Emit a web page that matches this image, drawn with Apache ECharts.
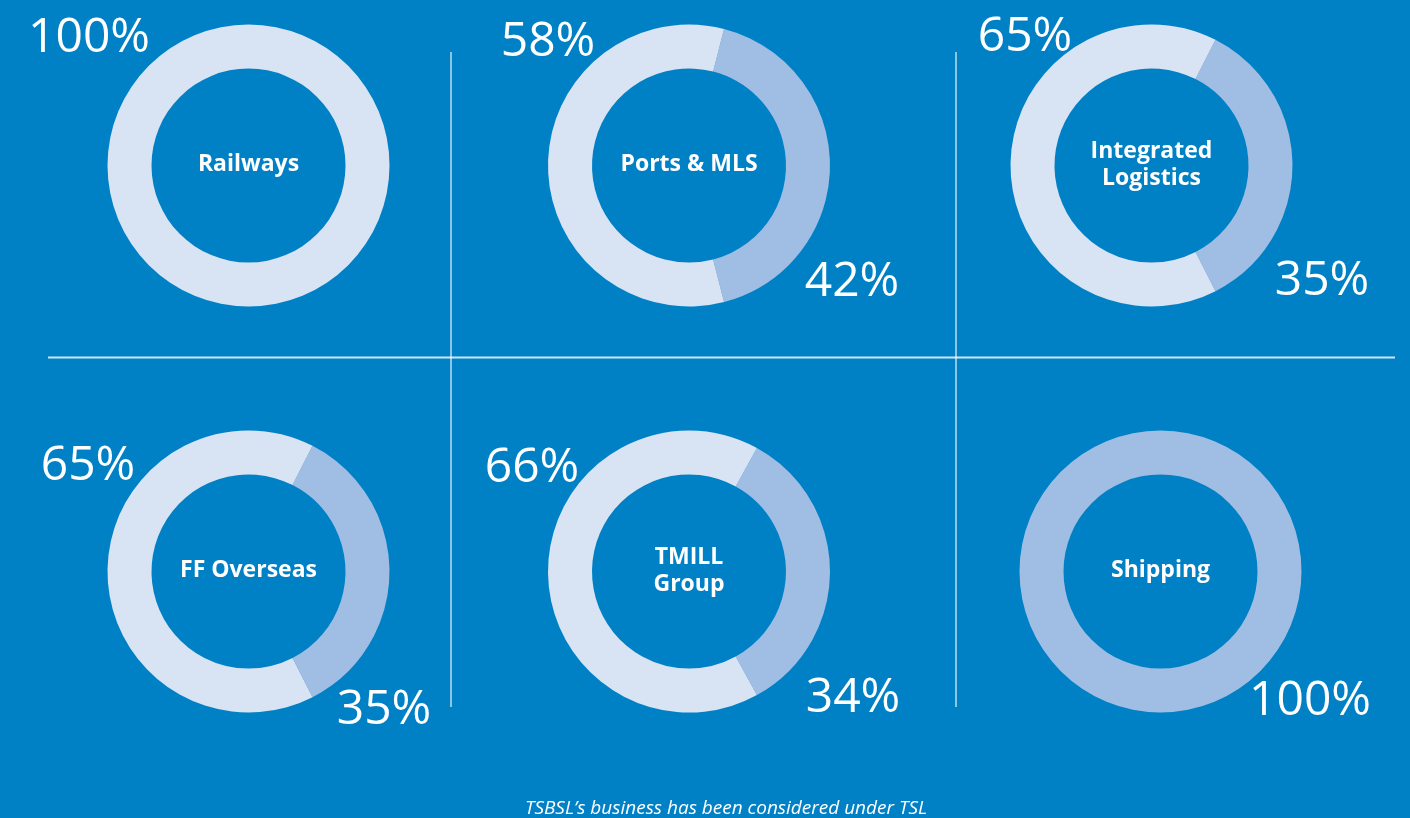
<!DOCTYPE html>
<html>
<head>
<meta charset="utf-8">
<script src="https://cdn.jsdelivr.net/npm/echarts@6/dist/echarts.min.js"></script>
<style>
html,body{margin:0;padding:0;background:#0081C6;}
#c{width:1410px;height:818px;}
</style>
</head>
<body>
<div id="c"></div>
<script>
// ---- data ----
var segments = ['Railways', 'Ports & MLS', 'Integrated\nLogistics', 'FF Overseas', 'TMILL\nGroup', 'Shipping'];
var shareA = [100, 58, 65, 65, 66, 0];   // light part
var shareB = [0, 42, 35, 35, 34, 100];   // dark part
var footnote = 'TSBSL\u2019s business has been considered under TSL';

// ---- layout (pixel positions) ----
var centers = [[248.5,165.5],[689,165.5],[1151.5,165.5],[248.5,571.5],[689,571.5],[1160.5,571.5]];
var labelAPos = [[89,38],[548,42],[1025,37],[88,466],[532,468],null];
var labelBPos = [null,[852,282],[1322,281],[384,710],[853,698],[1310,701]];

var lightColor = '#D8E3F3';
var darkColor = '#A0BEE3';

var chart = echarts.init(document.getElementById('c'), null, {renderer:'canvas'});

var series = [];
var graphics = [];
for (var i = 0; i < segments.length; i++) {
  var darkFrac = shareB[i] / (shareA[i] + shareB[i]);
  series.push({
    type: 'pie',
    silent: true,
    animation: false,
    center: centers[i],
    radius: [97, 141],
    startAngle: darkFrac * 360 / 2,
    clockwise: true,
    label: {show: false},
    labelLine: {show: false},
    itemStyle: {borderWidth: 0},
    data: [
      {name: 'B', value: shareB[i], itemStyle: {color: darkColor}},
      {name: 'A', value: shareA[i], itemStyle: {color: lightColor}}
    ]
  });
  graphics.push({
    type: 'text', x: centers[i][0], y: centers[i][1] - 1, silent: true,
    style: {text: segments[i], fill: '#fff', font: 'bold 23px "Open Sans", sans-serif',
            align: 'center', verticalAlign: 'middle', lineHeight: 27}
  });
  if (labelAPos[i]) {
    graphics.push({
      type: 'text', x: labelAPos[i][0], y: labelAPos[i][1], silent: true,
      style: {text: shareA[i] + '%', fill: '#fff', font: '48px "Open Sans", sans-serif',
              align: 'center', verticalAlign: 'middle'}
    });
  }
  if (labelBPos[i]) {
    graphics.push({
      type: 'text', x: labelBPos[i][0], y: labelBPos[i][1], silent: true,
      style: {text: shareB[i] + '%', fill: '#fff', font: '48px "Open Sans", sans-serif',
              align: 'center', verticalAlign: 'middle'}
    });
  }
}

// divider lines
var vLine = 'rgba(255,255,255,0.55)';
var hLine = 'rgba(255,255,255,0.8)';
graphics.push({type:'line', silent:true, shape:{x1:48,y1:357.5,x2:1395,y2:357.5}, style:{stroke:hLine,lineWidth:2}});
graphics.push({type:'line', silent:true, shape:{x1:451,y1:52,x2:451,y2:707}, style:{stroke:vLine,lineWidth:2}});
graphics.push({type:'line', silent:true, shape:{x1:956,y1:52,x2:956,y2:707}, style:{stroke:vLine,lineWidth:2}});

graphics.push({
  type:'text', x:726, y:809, silent:true,
  style:{text: footnote, fill:'#fff', font:'italic 19px "Open Sans", sans-serif', align:'center', verticalAlign:'middle'}
});

chart.setOption({
  backgroundColor: '#0081C6',
  animation: false,
  series: series,
  graphic: graphics
});
</script>
</body>
</html>
